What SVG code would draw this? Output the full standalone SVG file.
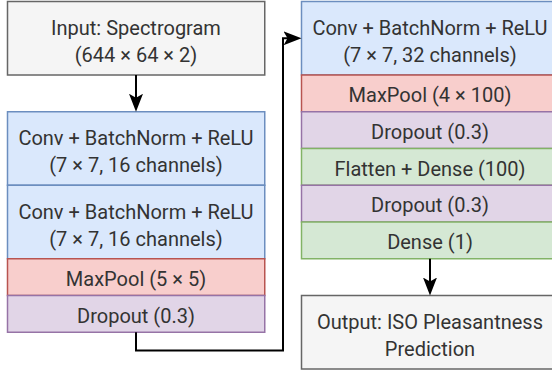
<svg xmlns="http://www.w3.org/2000/svg" width="552" height="373" viewBox="0 0 552 373">
<style>
  rect { stroke-width: 1.5; }
  .gray { fill: #f5f5f5; stroke: #666666; }
  .blue { fill: #dae8fc; stroke: #6c8ebf; }
  .red { fill: #f8cecc; stroke: #b85450; }
  .purple { fill: #e1d5e7; stroke: #9673a6; }
  .green { fill: #d5e8d4; stroke: #82b366; }
  text { font-family: Roboto, "Noto Sans", "Liberation Sans", sans-serif; font-size: 20px; fill: #333333; text-anchor: middle; }
  .conn { fill: none; stroke: #000000; stroke-width: 2; }
</style>
<defs>
  <marker id="arrow" markerUnits="userSpaceOnUse" viewBox="0 0 18 14" markerWidth="18" markerHeight="14" refX="12" refY="7" orient="auto">
    <path d="M0,0 L18,7 L0,14 L4,7 Z" fill="#000000"/>
  </marker>
</defs>
<rect width="552" height="373" fill="#ffffff"/>

<g id="input">
  <rect class="gray" x="7.5" y="1.5" width="257.25" height="73.5"/>
  <text x="136" y="35">Input: Spectrogram</text>
  <text x="136" y="62">(644 × 64 × 2)</text>
</g>
<g id="conv1">
  <rect class="blue" x="7.5" y="111.75" width="257.25" height="73.5"/>
  <text x="136" y="145">Conv + BatchNorm + ReLU</text>
  <text x="136" y="172">(7 × 7, 16 channels)</text>
</g>
<g id="conv2">
  <rect class="blue" x="7.5" y="185.25" width="257.25" height="73.5"/>
  <text x="136" y="218.5">Conv + BatchNorm + ReLU</text>
  <text x="136" y="245.5">(7 × 7, 16 channels)</text>
</g>
<g id="maxpool1">
  <rect class="red" x="7.5" y="258.75" width="257.25" height="36.75"/>
  <text x="136" y="285.5">MaxPool (5 × 5)</text>
</g>
<g id="dropout1">
  <rect class="purple" x="7.5" y="295.5" width="257.25" height="36.75"/>
  <text x="136" y="322.5">Dropout (0.3)</text>
</g>

<g id="conv3">
  <rect class="blue" x="301.5" y="1.5" width="257.25" height="73.5"/>
  <text x="430" y="35">Conv + BatchNorm + ReLU</text>
  <text x="430" y="62">(7 × 7, 32 channels)</text>
</g>
<g id="maxpool2">
  <rect class="red" x="301.5" y="75" width="257.25" height="36.75"/>
  <text x="430" y="102">MaxPool (4 × 100)</text>
</g>
<g id="dropout2">
  <rect class="purple" x="301.5" y="111.75" width="257.25" height="36.75"/>
  <text x="430" y="138.5">Dropout (0.3)</text>
</g>
<g id="flatten">
  <rect class="green" x="301.5" y="148.5" width="257.25" height="36.75"/>
  <text x="430" y="175.5">Flatten + Dense (100)</text>
</g>
<g id="dropout3">
  <rect class="purple" x="301.5" y="185.25" width="257.25" height="36.75"/>
  <text x="430" y="212">Dropout (0.3)</text>
</g>
<g id="dense">
  <rect class="green" x="301.5" y="222" width="257.25" height="36.75"/>
  <text x="430" y="249">Dense (1)</text>
</g>
<g id="output">
  <rect class="gray" x="301.5" y="295.5" width="257.25" height="73.5"/>
  <text x="430" y="329">Output: ISO Pleasantness</text>
  <text x="430" y="356">Prediction</text>
</g>

<g id="connectors">
  <path class="conn" d="M136,75 L136,105.75" marker-end="url(#arrow)"/>
  <path class="conn" d="M136,332.25 L136,350.6 L283,350.6 L283,38.25 L295.5,38.25" marker-end="url(#arrow)"/>
  <path class="conn" d="M430,258.75 L430,289.5" marker-end="url(#arrow)"/>
</g>
</svg>
